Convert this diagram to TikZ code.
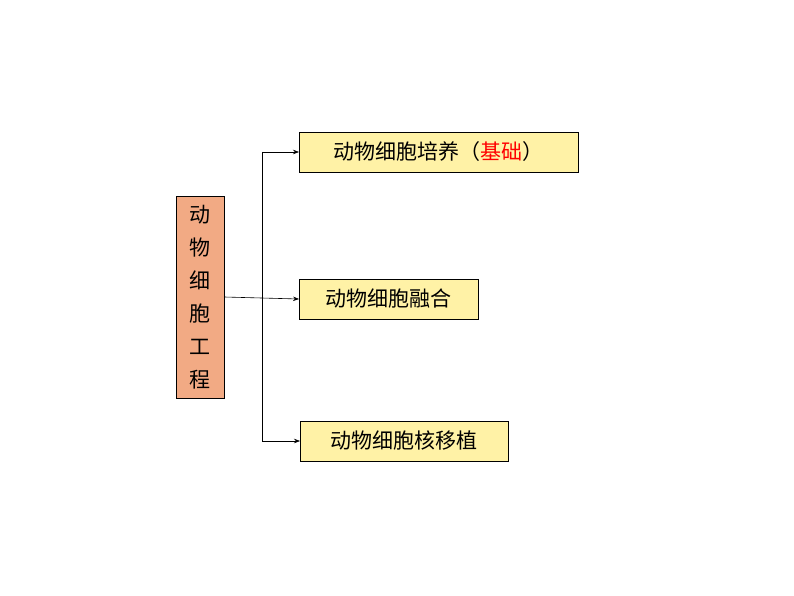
\documentclass[tikz,border=0pt]{standalone}
\usepackage{fontspec}
\setmainfont{Noto Sans CJK SC}
\usetikzlibrary{arrows.meta, positioning}
\definecolor{boxyellow}{HTML}{FFF2A6}
\definecolor{boxsalmon}{HTML}{F2AA84}
\tikzset{
  itembox/.style={draw, fill=boxyellow, thick, anchor=west, minimum height=40pt, inner xsep=8pt, font=\fontsize{21}{24}\selectfont},
  rootbox/.style={draw, fill=boxsalmon, thick, minimum width=48pt, minimum height=202pt, align=center, font=\fontsize{21}{33}\selectfont},
  link/.style={-{Stealth[length=6pt]}, semithick}
}
\begin{document}
\begin{tikzpicture}[x=1pt, y=-1pt]
  \useasboundingbox (0,0) rectangle (794,596);
  % Root
  \node[rootbox] (root) at (200,297) {动\\物\\细\\胞\\工\\程};
  % Branches
  \node[itembox, minimum width=279pt] (culture) at (299,152) {动物细胞培养（\textcolor{red}{基础}）};
  \node[itembox, minimum width=179pt] (fusion) at (299,299) {动物细胞融合};
  \node[itembox, minimum width=208pt] (transfer) at (300,441) {动物细胞核移植};
  % Connectors
  \coordinate (trunktop) at (262,152);
  \coordinate (trunkbot) at (262,441);
  \draw[semithick] (trunktop) -- (trunkbot);
  \draw[link] (root.east) -- (fusion.west);
  \draw[link] (trunktop) -- (culture.west);
  \draw[link] (trunkbot) -- (transfer.west);
\end{tikzpicture}
\end{document}
